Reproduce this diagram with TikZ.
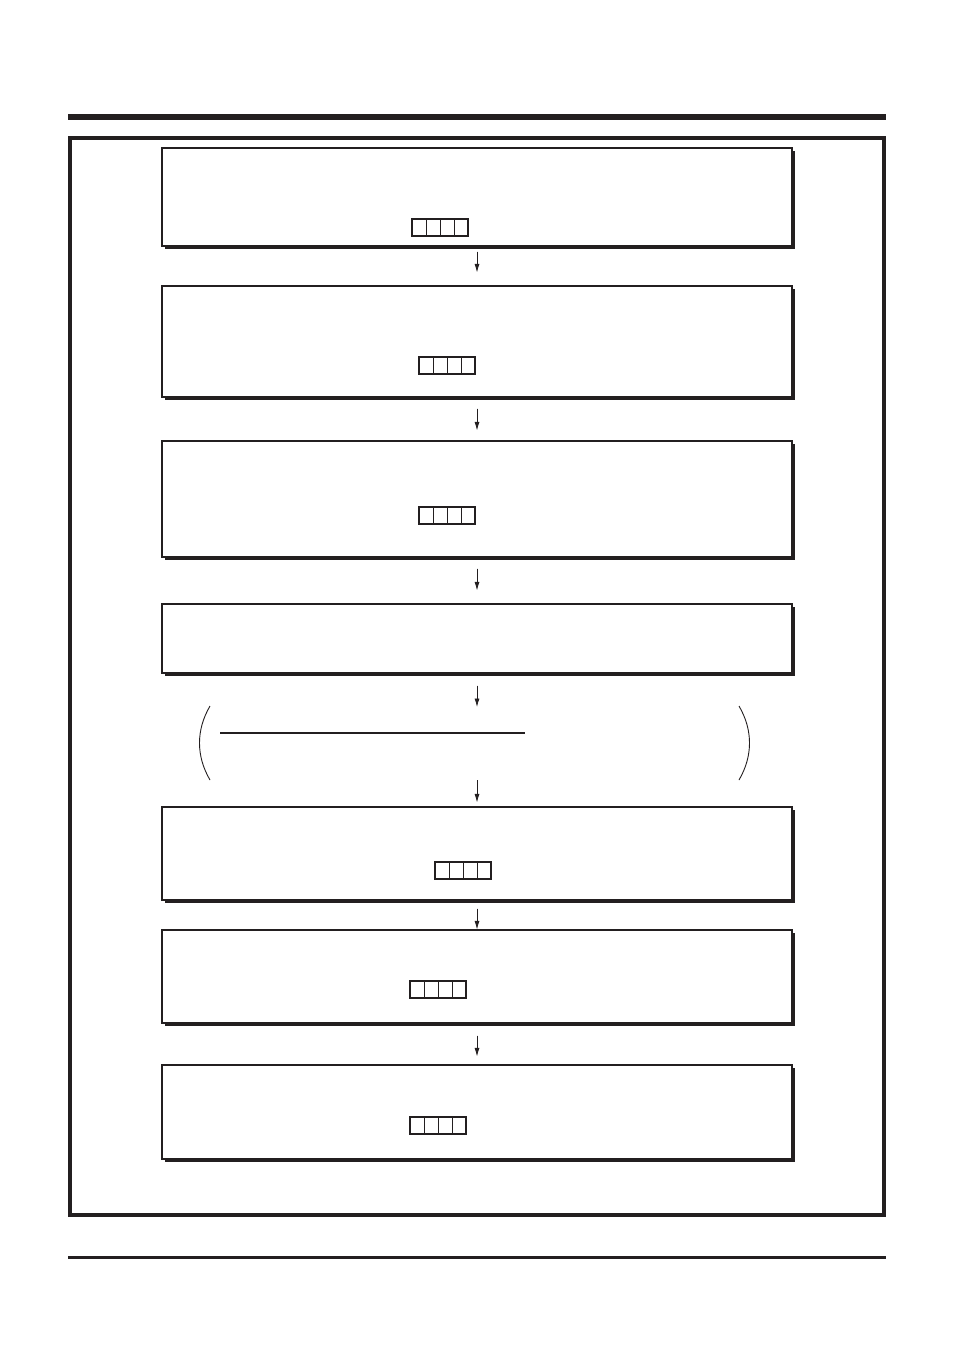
\documentclass[tikz,border=0pt]{standalone}
\usetikzlibrary{fit,shadows,arrows.meta}

\definecolor{ink}{HTML}{231F20}
\tikzset{
  flowbox/.style={draw=ink, line width=1.1pt, fill=white, inner sep=0pt,
    general shadow={fill=ink, shadow xshift=2.6pt, shadow yshift=-2.6pt}},
  cellbox/.style={draw=ink, line width=1.7pt, inner sep=0pt},
  flow/.style={-{Latex[length=8.5pt,width=5pt]}, line width=0.8pt, draw=ink, fill=ink},
}
% four little code cells: name, left x, top y
\newcommand{\cellrow}[3]{%
  \node[cellbox, fit={(#2,#3) (#2+56,#3+17)}] (#1) {};
  \foreach \k in {1,2,3}
    \draw[line width=0.8pt] (#2+14*\k,#3) -- (#2+14*\k,#3+17);
}

\begin{document}
\begin{tikzpicture}[x=1pt,y=-1pt,color=ink]
\useasboundingbox (0,0) rectangle (954,1351);

% page rules and frame
\draw[line width=6pt] (68,117) -- (886,117);
\draw[line width=3.5pt] (70,138) rectangle (884,1215);
\draw[line width=3pt] (68,1257.5) -- (886,1257.5);

% boxes
\node[flowbox, fit={(162,148) (792,246)}] (box1) {};
\node[flowbox, fit={(162,286) (792,397)}] (box2) {};
\node[flowbox, fit={(162,441) (792,557)}] (box3) {};
\node[flowbox, fit={(162,604) (792,673)}] (box4) {};
\node[flowbox, fit={(162,807) (792,900)}] (box5) {};
\node[flowbox, fit={(162,930) (792,1023)}] (box6) {};
\node[flowbox, fit={(162,1065) (792,1159)}] (box7) {};

\cellrow{cells1}{412}{219}
\cellrow{cells2}{419}{357}
\cellrow{cells3}{419}{507}
\cellrow{cells5}{435}{862}
\cellrow{cells6}{410}{981}
\cellrow{cells7}{410}{1117}

% bracketed note
\coordinate (note top) at (477,707);
\coordinate (note bot) at (477,780);
\draw[line width=0.9pt] (210,706) .. controls (196,730) and (196,756) .. (210,780);
\draw[line width=0.9pt] (739,706) .. controls (753,730) and (753,756) .. (739,780);
\draw[line width=2.5pt] (220,733) -- (525,733);

% arrows
\draw[flow, shorten <=5pt, shorten >=13pt] (box1.south) -- (box2.north);
\draw[flow, shorten <=11pt, shorten >=10pt] (box2.south) -- (box3.north);
\draw[flow, shorten <=11pt, shorten >=13pt] (box3.south) -- (box4.north);
\draw[flow, shorten <=12pt] (box4.south) -- (note top);
\draw[flow, shorten >=4pt] (note bot) -- (box5.north);
\draw[flow, shorten <=8pt] (box5.south) -- (box6.north);
\draw[flow, shorten <=12pt, shorten >=8pt] (box6.south) -- (box7.north);
\end{tikzpicture}
\end{document}
